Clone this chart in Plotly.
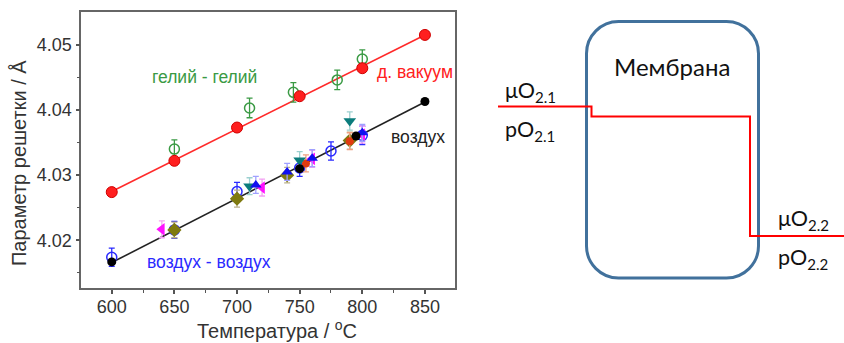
import numpy as np
import plotly.graph_objects as go

# ---------------- data ----------------
temp_vac = [600, 650, 700, 750, 800, 850]
a_vac = [4.0274, 4.0322, 4.0373, 4.0421, 4.0464, 4.0515]

temp_he = [650, 710, 745, 780, 800]
a_he = [4.0340, 4.0403, 4.0427, 4.0446, 4.0478]
err_he = [0.0014, 0.0015, 0.0015, 0.0015, 0.0014]

temp_air = [600, 750, 795, 850]
a_air = [4.0167, 4.0310, 4.0360, 4.0413]

temp_aa = [600, 650, 700, 750, 775, 800]
a_aa = [4.0174, 4.0216, 4.0275, 4.0311, 4.0337, 4.0361]
err_aa = [0.0014, 0.0013, 0.0014, 0.0013, 0.0014, 0.0014]

temp_mag = [640, 720, 760, 800]
a_mag = [4.0217, 4.0281, 4.0325, 4.0362]
err_mag = [0.0013, 0.0013, 0.0013, 0.0013]

temp_teal = [710, 750, 790]
a_teal = [4.0283, 4.0323, 4.0383]
err_teal = [0.0013, 0.0013, 0.0014]

temp_bt = [715, 740, 760, 800]
a_bt = [4.0285, 4.0305, 4.0326, 4.0365]
err_bt = [0.0013, 0.0013, 0.0013, 0.0013]

temp_ol = [650, 700, 740, 790]
a_ol = [4.0216, 4.0264, 4.0300, 4.0353]
err_ol = [0.0012, 0.0013, 0.0012, 0.0013]

temp_or = [755, 790]
a_or = [4.0318, 4.0352]
err_or = [0.0013, 0.0013]

x_ticks = [600, 650, 700, 750, 800, 850]
y_ticks = [4.02, 4.03, 4.04, 4.05]

W, H = 844, 343


def px(x):
    return x / W


def py(y):
    return 1 - y / H


fig = go.Figure()


def err(arr, color):
    return dict(type="data", array=arr, visible=True, color=color, thickness=1.3, width=3)


# fit lines
for t, a, c in [(temp_vac, a_vac, "#ff2a2a"), (temp_air, a_air, "#222222")]:
    k, b = np.polyfit(t, a, 1)
    xs = [min(t), max(t)]
    fig.add_trace(go.Scatter(x=xs, y=[k * xx + b for xx in xs], mode="lines",
                             line=dict(color=c, width=1.6), showlegend=False, hoverinfo="skip"))

fig.add_trace(go.Scatter(x=temp_he, y=a_he, mode="markers", error_y=err(err_he, "#3a9a44"),
                         marker=dict(symbol="circle-open", size=10, color="#3a9a44", line=dict(width=1.5)),
                         showlegend=False))
fig.add_trace(go.Scatter(x=temp_vac, y=a_vac, mode="markers",
                         marker=dict(symbol="circle", size=11, color="#ff1f1f", line=dict(color="#d00000", width=1)),
                         showlegend=False))
fig.add_trace(go.Scatter(x=temp_aa, y=a_aa, mode="markers", error_y=err(err_aa, "#2a2aff"),
                         marker=dict(symbol="circle-open", size=10, color="#2a2aff", line=dict(width=1.5)),
                         showlegend=False))
fig.add_trace(go.Scatter(x=temp_ol, y=a_ol, mode="markers", error_y=err(err_ol, "#b9b08a"),
                         marker=dict(symbol="diamond", size=11, color="#7f7a10"),
                         showlegend=False))
fig.add_trace(go.Scatter(x=temp_or, y=a_or, mode="markers", error_y=err(err_or, "#f0a080"),
                         marker=dict(symbol="circle", size=8, color="#e03a10"),
                         showlegend=False))
fig.add_trace(go.Scatter(x=temp_mag, y=a_mag, mode="markers", error_y=err(err_mag, "#f4a0f4"),
                         marker=dict(symbol="triangle-left", size=11, color="#ff10ff"),
                         showlegend=False))
fig.add_trace(go.Scatter(x=temp_teal, y=a_teal, mode="markers", error_y=err(err_teal, "#9cd0d0"),
                         marker=dict(symbol="triangle-down", size=11, color="#0b7c7c"),
                         showlegend=False))
fig.add_trace(go.Scatter(x=temp_bt, y=a_bt, mode="markers", error_y=err(err_bt, "#a0a0ff"),
                         marker=dict(symbol="triangle-up", size=10, color="#1010f0"),
                         showlegend=False))
fig.add_trace(go.Scatter(x=temp_air, y=a_air, mode="markers",
                         marker=dict(symbol="circle", size=9, color="#000000"),
                         showlegend=False))

tickfont = dict(family="Liberation Sans, Arial", size=18, color="#333333")
fig.update_xaxes(domain=[px(81.3), px(455)], range=[575.7, 874], tickvals=x_ticks,
                 ticks="outside", ticklen=4, tickwidth=1.5, tickcolor="#555555", ticklabelstandoff=-3,
                 minor=dict(ticks="outside", ticklen=2.5, dtick=25, tickcolor="#555555", tickwidth=1.2),
                 showline=True, linecolor="#666666", linewidth=1.6, mirror=True, automargin=False,
                 showgrid=False, zeroline=False, tickfont=tickfont)
fig.update_yaxes(domain=[py(288.3), py(12.3)], range=[4.01265, 4.05497], tickvals=y_ticks,
                 ticktext=["4.02", "4.03", "4.04", "4.05"],
                 ticks="outside", ticklen=4, tickwidth=1.5, tickcolor="#555555",
                 minor=dict(ticks="outside", ticklen=2.5, dtick=0.005, tickcolor="#555555", tickwidth=1.2),
                 showline=True, linecolor="#666666", linewidth=1.6, mirror=True, automargin=False,
                 showgrid=False, zeroline=False, tickfont=tickfont)


def note(x, y, text, size, color, family="Liberation Sans, Arial", xanchor="center", angle=0):
    return dict(x=px(x), y=py(y), xref="paper", yref="paper", text=text, showarrow=False,
                xanchor=xanchor, yanchor="middle", textangle=angle,
                font=dict(family=family, size=size, color=color))


ann = [
    note(19, 163, "Параметр решетки / Å", 20, "#333333", angle=-90),
    note(277, 329, "Температура / <sup>o</sup>C", 20, "#333333"),
    note(204, 77, "гелий - гелий", 17.5, "#3a9a44"),
    note(415, 72, "д. вакуум", 17.5, "#ff2020"),
    note(418, 137, "воздух", 17.5, "#222222"),
    note(209, 262, "воздух - воздух", 17.5, "#2a2aff"),
]

# ---------------- membrane diagram ----------------
dfont = "Lato, Open Sans"
ann.append(note(672, 66, "Мембрана", 24, "#111111", family=dfont))
for xl, yc, txt in [(503, 91, "μO<sub>2.1</sub>"), (503, 130, "pO<sub>2.1</sub>"),
                    (776, 219, "μO<sub>2.2</sub>"), (776, 258, "pO<sub>2.2</sub>")]:
    ann.append(note(xl, yc, txt, 21.5, "#111111", family=dfont, xanchor="left"))

x0, x1, y0, y1, r = 586.5, 758.5, 21.5, 278, 32
k = 0.45  # bezier handle factor
path = (f"M {px(x0 + r)},{py(y0)} L {px(x1 - r)},{py(y0)} "
        f"C {px(x1 - r * k)},{py(y0)} {px(x1)},{py(y0 + r * k)} {px(x1)},{py(y0 + r)} "
        f"L {px(x1)},{py(y1 - r)} "
        f"C {px(x1)},{py(y1 - r * k)} {px(x1 - r * k)},{py(y1)} {px(x1 - r)},{py(y1)} "
        f"L {px(x0 + r)},{py(y1)} "
        f"C {px(x0 + r * k)},{py(y1)} {px(x0)},{py(y1 - r * k)} {px(x0)},{py(y1 - r)} "
        f"L {px(x0)},{py(y0 + r)} "
        f"C {px(x0)},{py(y0 + r * k)} {px(x0 + r * k)},{py(y0)} {px(x0 + r)},{py(y0)} Z")
shapes = [dict(type="path", xref="paper", yref="paper", path=path,
               line=dict(color="#41719c", width=3), fillcolor="rgba(0,0,0,0)")]

pts = [(498, 106.5), (591.5, 106.5), (591.5, 116.5), (750, 116.5), (750, 236), (844, 236)]
red_path = "M " + " L ".join(f"{px(a)},{py(b)}" for a, b in pts)
shapes.append(dict(type="path", xref="paper", yref="paper", path=red_path,
                   line=dict(color="#ff0000", width=2), fillcolor="rgba(0,0,0,0)"))

fig.update_layout(width=W, height=H, margin=dict(l=0, r=0, t=0, b=0, autoexpand=False),
                  paper_bgcolor="white", plot_bgcolor="white",
                  annotations=ann, shapes=shapes, showlegend=False)

fig.write_html("out.html", config={"displayModeBar": False},
               post_script="document.body.style.margin='0';document.body.style.overflow='hidden';")
